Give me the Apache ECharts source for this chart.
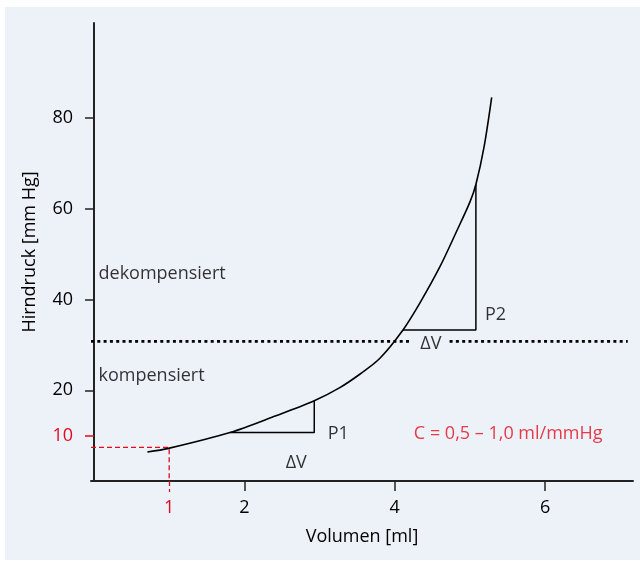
<!DOCTYPE html>
<html>
<head>
<meta charset="utf-8">
<script src="https://cdn.jsdelivr.net/npm/echarts@6/dist/echarts.min.js"></script>
<style>
  html, body { margin: 0; padding: 0; background: #fff; }
  #main { width: 640px; height: 561px; }
</style>
</head>
<body>
<div id="main"></div>
<script>
// Druck-Volumen-Kurve
const volume   = [0.71, 0.99, 1.81, 2.39, 2.93, 3.27, 3.54, 3.80, 4.11, 4.34, 4.60, 4.83, 5.00, 5.08, 5.19, 5.29]
const pressure = [6.4, 7.2, 10.7, 14.2, 17.7, 20.6, 23.6, 27.0, 33.3, 39.4, 47.2, 55.3, 61.5, 65.4, 73.8, 84.6]

const xTicks = [2, 4, 6]
const yTicks = [20, 40, 60, 80]
const redX = [1]
const redY = [10]

// threshold kompensiert / dekompensiert
const thresholdP = 30.8
const thresholdGap = [4.23, 4.73]
const thresholdEnd = 7.1

// slope triangles: [v0, v1, pLow, pHigh]
const tri1 = [1.81, 2.93, 10.7, 17.7]
const tri2 = [4.11, 5.08, 33.3, 65.4]

// reference point at 1 ml
const refV = 1
const refP = 7.4

const xMin = -0.04, xMax = 7.17
const yMin = 0, yMax = 101

const RED = '#e30a1e'
const INK = '#000'
const FONT = 'Open Sans'
const FS = 18
const FW = 500

var chartDom = document.getElementById('main')
var myChart = echarts.init(chartDom)

function triData(t) {
  return [[t[0], t[2]], [t[1], t[2]], [t[1], t[3]]]
}

function textItem(v, p, text, align, color) {
  return {
    value: [v, p],
    label: { show: true, formatter: text, position: 'inside', align: align, verticalAlign: 'middle',
      color: color || INK, fontSize: FS, fontFamily: FONT, fontWeight: FW }
  }
}

const baseAxisLine = { show: true, lineStyle: { color: '#222', width: 2 } }
const textStyle = { fontSize: FS, fontFamily: FONT, fontWeight: FW, color: INK }

var option = {
  animation: false,
  backgroundColor: '#fff',
  graphic: [{
    type: 'rect', left: 5, top: 7, z: -10,
    shape: { width: 635, height: 553 },
    style: { fill: '#edf2f9' }
  }],
  grid: { left: 91, right: 7, top: 23, bottom: 80, containLabel: false },
  xAxis: [
    {
      type: 'value', min: xMin, max: xMax,
      name: 'Volumen [ml]', nameLocation: 'middle', nameGap: 47,
      nameTextStyle: textStyle,
      axisLine: baseAxisLine,
      axisTick: { show: true, length: 10, customValues: xTicks, lineStyle: { color: '#222', width: 1.5 } },
      axisLabel: Object.assign({ customValues: xTicks, margin: 18 }, textStyle),
      splitLine: { show: false }
    },
    {
      type: 'value', min: xMin, max: xMax, position: 'bottom',
      axisLine: { show: false },
      axisTick: { show: true, length: 11, customValues: redX, lineStyle: { color: RED, width: 1.3, type: [5, 3] } },
      axisLabel: Object.assign({ customValues: redX, margin: 18 }, textStyle, { color: RED }),
      splitLine: { show: false }
    }
  ],
  yAxis: [
    {
      type: 'value', min: yMin, max: yMax,
      name: 'Hirndruck [mm Hg]', nameLocation: 'middle', nameGap: 52,
      nameTextStyle: textStyle,
      axisLine: baseAxisLine,
      axisTick: { show: true, length: 9, customValues: yTicks, lineStyle: { color: '#222', width: 1.5 } },
      axisLabel: Object.assign({ customValues: yTicks, margin: 18 }, textStyle),
      splitLine: { show: false }
    },
    {
      type: 'value', min: yMin, max: yMax, position: 'left',
      axisLine: { show: false },
      axisTick: { show: true, length: 9, customValues: redY, lineStyle: { color: RED, width: 1.5 } },
      axisLabel: Object.assign({ customValues: redY, margin: 18 }, textStyle, { color: RED }),
      splitLine: { show: false }
    }
  ],
  series: [
    {
      name: 'Kurve', type: 'line', smooth: 0.3, symbol: 'none',
      data: volume.map((v, i) => [v, pressure[i]]),
      lineStyle: { color: INK, width: 1.6 }, z: 5
    },
    {
      name: 'Referenz', type: 'line', symbol: 'none',
      data: [[xMin, refP], [refV, refP], [refV, yMin]],
      lineStyle: { color: RED, width: 1.3, type: [5, 3] }, z: 3
    },
    {
      name: 'Grenze1', type: 'line', symbol: 'none',
      data: [[xMin, thresholdP], [thresholdGap[0], thresholdP]],
      lineStyle: { color: INK, width: 2.8, type: [3, 3.3], cap: 'butt' }, z: 2
    },
    {
      name: 'Grenze2', type: 'line', symbol: 'none',
      data: [[thresholdGap[1], thresholdP], [thresholdEnd, thresholdP]],
      lineStyle: { color: INK, width: 2.8, type: [3, 3.3], cap: 'butt' }, z: 2
    },
    {
      name: 'P1', type: 'line', symbol: 'none', data: triData(tri1),
      lineStyle: { color: INK, width: 1.5 }, z: 4
    },
    {
      name: 'P2', type: 'line', symbol: 'none', data: triData(tri2),
      lineStyle: { color: INK, width: 1.5 }, z: 4
    },
    {
      name: 'Text', type: 'scatter', symbolSize: 0, silent: true,
      data: [
        textItem(0.06, 45.6, 'dekompensiert', 'left'),
        textItem(0.06, 23.1, 'kompensiert', 'left'),
        textItem(2.69, 4.1, 'ΔV', 'center'),
        textItem(3.11, 10.3, 'P1', 'left'),
        textItem(4.48, 30.2, 'ΔV', 'center'),
        textItem(5.20, 36.6, 'P2', 'left'),
        textItem(5.51, 10.5, 'C = 0,5 – 1,0 ml/mmHg', 'center', RED)
      ]
    }
  ]
}

option && myChart.setOption(option)
</script>
</body>
</html>
